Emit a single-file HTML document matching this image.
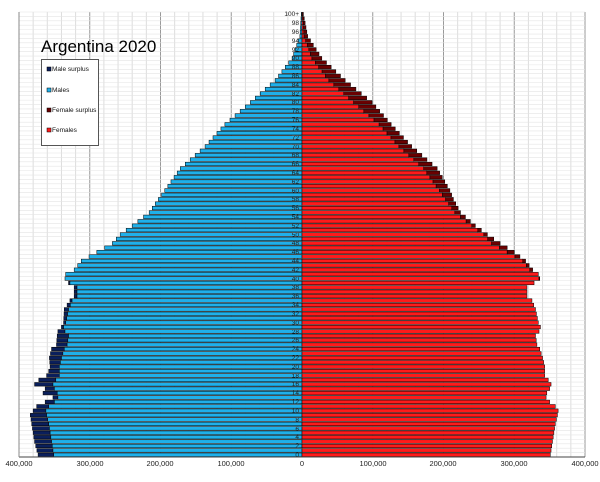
<!DOCTYPE html>
<html><head><meta charset="utf-8"><style>
body{margin:0;background:#fff;width:600px;height:482px;overflow:hidden;font-family:"Liberation Sans",sans-serif}
svg{display:block}
</style></head><body>
<svg id="s" width="600" height="482" xmlns="http://www.w3.org/2000/svg" font-family="Liberation Sans, sans-serif">
<g id="grid"></g>
<g id="bars"></g>
<line x1="19" y1="457" x2="585" y2="457" stroke="#444" stroke-width="1"/>
<line x1="19" y1="12" x2="19" y2="457" stroke="#888" stroke-width="1"/>
<g font-size="7.5" fill="#222" text-anchor="middle">
<text x="19" y="466">400,000</text><text x="90" y="466">300,000</text><text x="160" y="466">200,000</text><text x="231" y="466">100,000</text><text x="302" y="466">0</text><text x="373" y="466">100,000</text><text x="443" y="466">200,000</text><text x="514" y="466">300,000</text><text x="585" y="466">400,000</text>
</g>
<g id="ages" font-size="6.5" fill="#222" text-anchor="end">
<text x="299" y="457">0</text><text x="299" y="448">2</text><text x="299" y="439">4</text><text x="299" y="431">6</text><text x="299" y="422">8</text><text x="299" y="413">10</text><text x="299" y="404">12</text><text x="299" y="395">14</text><text x="299" y="386">16</text><text x="299" y="378">18</text><text x="299" y="369">20</text><text x="299" y="360">22</text><text x="299" y="351">24</text><text x="299" y="342">26</text><text x="299" y="334">28</text><text x="299" y="325">30</text><text x="299" y="316">32</text><text x="299" y="307">34</text><text x="299" y="298">36</text><text x="299" y="289">38</text><text x="299" y="281">40</text><text x="299" y="272">42</text><text x="299" y="263">44</text><text x="299" y="254">46</text><text x="299" y="245">48</text><text x="299" y="237">50</text><text x="299" y="228">52</text><text x="299" y="219">54</text><text x="299" y="210">56</text><text x="299" y="201">58</text><text x="299" y="193">60</text><text x="299" y="184">62</text><text x="299" y="175">64</text><text x="299" y="166">66</text><text x="299" y="157">68</text><text x="299" y="149">70</text><text x="299" y="140">72</text><text x="299" y="131">74</text><text x="299" y="122">76</text><text x="299" y="113">78</text><text x="299" y="104">80</text><text x="299" y="96">82</text><text x="299" y="87">84</text><text x="299" y="78">86</text><text x="299" y="69">88</text><text x="299" y="60">90</text><text x="299" y="52">92</text><text x="299" y="43">94</text><text x="299" y="34">96</text><text x="299" y="25">98</text><text x="299" y="16">100+</text>
</g>
<text x="41" y="52" font-size="17" fill="#000">Argentina 2020</text>
<rect x="41.5" y="59.5" width="57" height="86" fill="#fff" stroke="#555" stroke-width="1"/>
<g font-size="6.5" fill="#111">
<rect x="47" y="67" width="4" height="4" fill="#0a1f5c" stroke="#000" stroke-width=".5"/><text x="52" y="71">Male surplus</text>
<rect x="47" y="88" width="4" height="4" fill="#1fb0ea" stroke="#000" stroke-width=".5"/><text x="52" y="92">Males</text>
<rect x="47" y="108" width="4" height="4" fill="#6b0000" stroke="#000" stroke-width=".5"/><text x="52" y="112">Female surplus</text>
<rect x="47" y="128" width="4" height="4" fill="#ff1a1a" stroke="#000" stroke-width=".5"/><text x="52" y="132">Females</text>
</g>
</svg>
<script>
var NS="http://www.w3.org/2000/svg";
function el(p,t,a){var e=document.createElementNS(NS,t);for(var k in a)e.setAttribute(k,a[k]);p.appendChild(e);return e;}
var g=document.getElementById('grid'),b=document.getElementById('bars');
var x0=302,k=0.7075,h=445/101;
for(var v=-400;v<=400;v+=20){var x=x0+v*k;el(g,'line',{x1:x,y1:12,x2:x,y2:457,stroke:(v%100==0?'#999':'#ddd'),'stroke-width':1});}
for(var a=0;a<=101;a++){var y=457-a*h;el(g,'line',{x1:19,y1:y,x2:585,y2:y,stroke:'#e4e4e4','stroke-width':.6});}
var M=[[0,373],[3,378],[5,380],[7,382],[9,384],[10,380],[11,375],[12,363],[13,352],[14,366],[15,363],[16,378],[17,372],[18,361],[19,358],[20,356],[22,357],[24,354],[25,347],[27,346],[28,345],[29,340],[30,337],[33,336],[35,328],[36,322],[38,322],[39,330],[40,335],[41,334],[42,322],[44,312],[46,290],[48,268],[50,257],[52,240],[55,216],[58,203],[60,194],[65,172],[70,137],[75,109],[80,73],[85,38],[90,14],[95,3],[100,1]];
var F=[[0,351],[3,354],[5,356],[7,358],[9,361],[10,362],[11,358],[12,350],[13,345],[14,346],[15,350],[16,352],[17,348],[18,343],[20,343],[22,340],[24,336],[25,332],[27,330],[28,335],[29,337],[30,334],[33,330],[35,325],[36,318],[38,318],[39,328],[40,336],[41,334],[42,326],[44,316],[46,300],[48,280],[50,262],[52,245],[55,224],[58,214],[60,209],[65,191],[70,155],[75,126],[80,99],[85,61],[90,28],[95,8],[100,2]];
function I(t,a){for(var i=0;i<t.length-1;i++){if(a>=t[i][0]&&a<=t[i+1][0]){var f=(a-t[i][0])/(t[i+1][0]-t[i][0]);return t[i][1]+f*(t[i+1][1]-t[i][1]);}}return t[t.length-1][1];}
for(var a=0;a<=100;a++){
 var y=457-(a+1)*h+0.4,hh=h-0.8;
 var m=I(M,a),f=I(F,a),c=Math.min(m,f);
 var st={stroke:'#000','stroke-width':.5};
 if(m>c)el(b,'rect',Object.assign({x:x0-m*k,y:y,width:(m-c)*k,height:hh,fill:'#0a1f5c'},st));
 el(b,'rect',Object.assign({x:x0-c*k,y:y,width:c*k,height:hh,fill:'#1fb0ea'},st));
 el(b,'rect',Object.assign({x:x0,y:y,width:c*k,height:hh,fill:'#ff1a1a'},st));
 if(f>c)el(b,'rect',Object.assign({x:x0+c*k,y:y,width:(f-c)*k,height:hh,fill:'#6b0000'},st));
}
</script>
</body></html>
